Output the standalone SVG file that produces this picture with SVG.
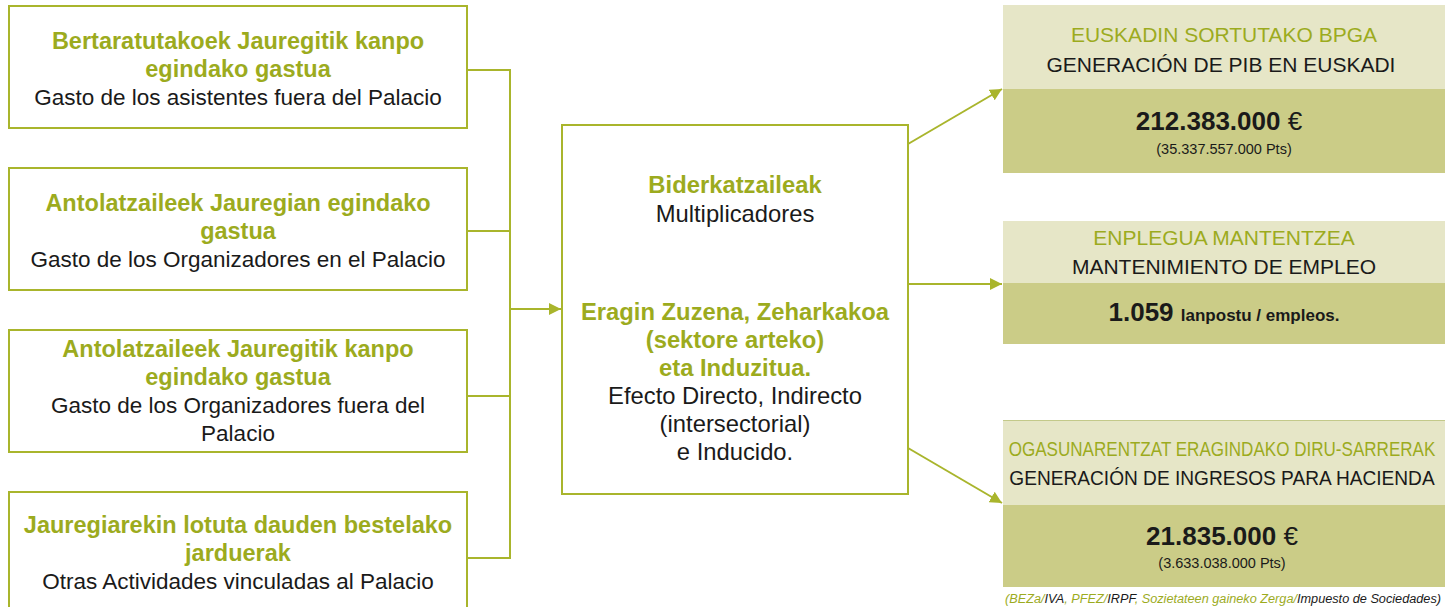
<svg xmlns="http://www.w3.org/2000/svg" width="1455" height="607" viewBox="0 0 1455 607">
<style>
.box{fill:#fff;stroke:#a9b52c;stroke-width:2}
.t{font-family:"Liberation Sans",Arial,sans-serif;text-anchor:middle}
.g{fill:#9cab1e;font-weight:bold;font-size:23.5px}
.k{fill:#1a1a1a;font-size:22.5px}
.cg{fill:#9cab1e;font-weight:bold;font-size:23.8px}
.ck{fill:#1a1a1a;font-size:23.8px}
.cap{font-size:21px}
.gl{fill:#9cab1e}
.light{fill:#e6e6c7}
.dark{fill:#cbcc87}
.con{fill:none;stroke:#a9b52c;stroke-width:2}
.big{fill:#1a1a1a;font-weight:bold;font-size:26px}
.sm{fill:#1a1a1a;font-size:14.5px}
</style>
<defs>
<marker id="ah" viewBox="0 0 10 10" refX="10" refY="5" markerWidth="6" markerHeight="6" orient="auto" markerUnits="strokeWidth">
<path d="M0,0 L10,5 L0,10 z" fill="#a9b52c"/>
</marker>
</defs>

<g id="connectors">
<polyline class="con" points="467,70 510,70 510,558 467,558"/>
<line class="con" x1="467" y1="231" x2="510" y2="231"/>
<line class="con" x1="467" y1="396" x2="510" y2="396"/>
<line class="con" x1="510" y1="309" x2="561" y2="309" marker-end="url(#ah)"/>
<line class="con" x1="908" y1="144" x2="1002" y2="89" marker-end="url(#ah)"/>
<line class="con" x1="908" y1="284" x2="1002" y2="284" marker-end="url(#ah)"/>
<line class="con" x1="908" y1="448" x2="1002" y2="503" marker-end="url(#ah)"/>
</g>

<g id="box1">
<rect class="box" x="9" y="6" width="458" height="122"/>
<text class="t g" x="238" y="49">Bertaratutakoek Jauregitik kanpo</text>
<text class="t g" x="238" y="77">egindako gastua</text>
<text class="t k" x="238" y="105">Gasto de los asistentes fuera del Palacio</text>
</g>

<g id="box2">
<rect class="box" x="9" y="168" width="458" height="122"/>
<text class="t g" x="238" y="211">Antolatzaileek Jauregian egindako</text>
<text class="t g" x="238" y="239">gastua</text>
<text class="t k" x="238" y="267">Gasto de los Organizadores en el Palacio</text>
</g>

<g id="box3">
<rect class="box" x="9" y="330" width="458" height="122"/>
<text class="t g" x="238" y="357">Antolatzaileek Jauregitik kanpo</text>
<text class="t g" x="238" y="385">egindako gastua</text>
<text class="t k" x="238" y="413">Gasto de los Organizadores fuera del</text>
<text class="t k" x="238" y="441">Palacio</text>
</g>

<g id="box4">
<rect class="box" x="9" y="492" width="458" height="130"/>
<text class="t g" x="238" y="533">Jauregiarekin lotuta dauden bestelako</text>
<text class="t g" x="238" y="561">jarduerak</text>
<text class="t k" x="238" y="589">Otras Actividades vinculadas al Palacio</text>
</g>

<g id="center">
<rect class="box" x="562" y="125" width="346" height="369"/>
<text class="t cg" x="735" y="193">Biderkatzaileak</text>
<text class="t ck" x="735" y="222">Multiplicadores</text>
<text class="t cg" x="735" y="320">Eragin Zuzena, Zeharkakoa</text>
<text class="t cg" x="735" y="348">(sektore arteko)</text>
<text class="t cg" x="735" y="376">eta Induzitua.</text>
<text class="t ck" x="735" y="404">Efecto Directo, Indirecto</text>
<text class="t ck" x="735" y="432">(intersectorial)</text>
<text class="t ck" x="735" y="460">e Inducido.</text>
</g>

<g id="panel1">
<rect class="light" x="1003" y="5" width="442" height="84"/>
<rect class="dark" x="1003" y="89" width="442" height="84"/>
<text class="t cap gl" x="1224" y="42">EUSKADIN SORTUTAKO BPGA</text>
<text class="t cap" fill="#1a1a1a" x="1221" y="72">GENERACIÓN DE PIB EN EUSKADI</text>
<text class="t" x="1219" y="130"><tspan class="big">212.383.000 </tspan><tspan fill="#1a1a1a" font-size="26px">€</tspan></text>
<text class="t sm" x="1224" y="154">(35.337.557.000 Pts)</text>
</g>

<g id="panel2">
<rect class="light" x="1003" y="221" width="442" height="62"/>
<rect class="dark" x="1003" y="283" width="442" height="61"/>
<text class="t cap gl" x="1224" y="245">ENPLEGUA MANTENTZEA</text>
<text class="t cap" fill="#1a1a1a" x="1224" y="274">MANTENIMIENTO DE EMPLEO</text>
<text class="t" x="1224" y="321"><tspan class="big">1.059 </tspan><tspan fill="#1a1a1a" font-weight="bold" font-size="17px">lanpostu / empleos.</tspan></text>
</g>

<g id="panel3">
<rect class="light" x="1003" y="420" width="442" height="85"/>
<line x1="1003" y1="420.5" x2="1445" y2="420.5" stroke="#c3c98a" stroke-width="1"/>
<rect class="dark" x="1003" y="505" width="442" height="82"/>
<text class="t gl" font-size="20px" transform="translate(1222,456) scale(0.853,1)" x="0" y="0">OGASUNARENTZAT ERAGINDAKO DIRU-SARRERAK</text>
<text class="t" fill="#1a1a1a" font-size="19.5px" transform="translate(1222,485) scale(0.98,1)" x="0" y="0">GENERACIÓN DE INGRESOS PARA HACIENDA</text>
<text class="t" x="1222" y="545"><tspan class="big">21.835.000 </tspan><tspan fill="#1a1a1a" font-size="26px">€</tspan></text>
<text class="t sm" x="1222" y="568">(3.633.038.000 Pts)</text>
<text class="t" x="1223" y="603" font-size="12px" font-style="italic" textLength="436" lengthAdjust="spacingAndGlyphs"><tspan class="gl">(BEZa/</tspan><tspan fill="#1a1a1a">IVA</tspan><tspan class="gl">, PFEZ/</tspan><tspan fill="#1a1a1a">IRPF</tspan><tspan class="gl">, Sozietateen gaineko Zerga/</tspan><tspan fill="#1a1a1a">Impuesto de Sociedades)</tspan></text>
</g>
</svg>
